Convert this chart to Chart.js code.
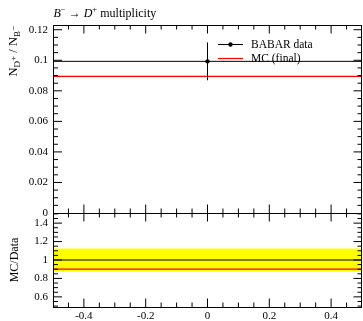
<!DOCTYPE html>
<html>
<head>
<meta charset="utf-8">
<script src="https://cdn.jsdelivr.net/npm/chart.js@4/dist/chart.umd.min.js"></script>
<style>
  html, body { margin: 0; padding: 0; overflow: hidden; background: #fff; }
  #wrap { width: 366px; height: 321px; }
</style>
</head>
<body>
<div id="wrap"><canvas id="plot" width="366" height="321"></canvas></div>
<script>
// one bin, data point with error, MC prediction
const binLow = [-0.5];
const binHigh = [0.5];
const binCenter = [0];
const dataValues = [0.0993];
const dataErrors = [0.0124];
const mcValues = [0.0895];

const mainTicks = [0, 0.02, 0.04, 0.06, 0.08, 0.1, 0.12];
const ratioTicks = [0.6, 0.8, 1, 1.2, 1.4];
const xTicks = [-0.4, -0.2, 0, 0.2, 0.4];

const serif = '"Liberation Serif", "DejaVu Serif", serif';
const fmt = v => String(Math.round(v * 1000) / 1000);

// histogram drawn as steps over the bin edges
function stepPoints(values) {
  const pts = [];
  values.forEach((v, i) => {
    pts.push({x: binLow[i], y: v});
    pts.push({x: binHigh[i], y: v});
  });
  return pts;
}

const ratioMc = mcValues.map((v, i) => v / dataValues[i]);
const ratioOne = dataValues.map(() => 1);
const ratioUp = dataErrors.map((e, i) => 1 + e / dataValues[i]);
const ratioDown = dataErrors.map((e, i) => 1 - e / dataValues[i]);

// draw a run of text pieces (italic / smaller / shifted), returns width
function drawPieces(ctx, pieces, x, y, size, measureOnly) {
  let cx = x;
  pieces.forEach(p => {
    const s = p.small ? size * 0.72 : size;
    ctx.font = (p.italic ? 'italic ' : '') + s + 'px ' + serif;
    if (!measureOnly) ctx.fillText(p.t, cx, y + (p.dy || 0));
    cx += ctx.measureText(p.t).width;
  });
  return cx - x;
}

function drawTicks(ctx, scale, vertical, step, side1, side2) {
  const major = 8.5, minor = 4.5;
  const k0 = Math.ceil(scale.min / step - 1e-6);
  const k1 = Math.floor(scale.max / step + 1e-6);
  ctx.beginPath();
  for (let k = k0; k <= k1; k++) {
    const v = k * step;
    if (Math.abs(v - scale.min) < 1e-6 || Math.abs(v - scale.max) < 1e-6) continue;
    const isMajor = scale.ticks.some(t => Math.abs(t.value - v) < 1e-6);
    const len = isMajor ? major : minor;
    const p = scale.getPixelForValue(v);
    if (vertical) {
      ctx.moveTo(side1, p); ctx.lineTo(side1 + len, p);
      ctx.moveTo(side2, p); ctx.lineTo(side2 - len, p);
    } else {
      ctx.moveTo(p, side1); ctx.lineTo(p, side1 + len);
      ctx.moveTo(p, side2); ctx.lineTo(p, side2 - len);
    }
  }
  ctx.stroke();
}

const framePlugin = {
  id: 'frame',
  afterDatasetsDraw(chart) {
    const ctx = chart.ctx;
    const x = chart.scales.x, y = chart.scales.y;
    ctx.save();
    ctx.strokeStyle = '#000';
    ctx.lineWidth = 1;
    dataValues.forEach((v, i) => {
      const px = x.getPixelForValue(binCenter[i]);
      const py = y.getPixelForValue(v);
      ctx.beginPath();
      ctx.moveTo(px, y.getPixelForValue(v - dataErrors[i]));
      ctx.lineTo(px, y.getPixelForValue(v + dataErrors[i]));
      ctx.moveTo(x.getPixelForValue(binLow[i]), py);
      ctx.lineTo(x.getPixelForValue(binHigh[i]), py);
      ctx.stroke();
    });
    ctx.restore();
  },
  afterDraw(chart) {
    const ctx = chart.ctx;
    const x = chart.scales.x, y = chart.scales.y, yr = chart.scales.yr;
    const left = Math.floor(chart.chartArea.left) + 0.5;
    const right = chart.chartArea.right - 0.5;
    ctx.save();
    ctx.strokeStyle = '#000';
    ctx.lineWidth = 1;

    // frames of both panels
    [[y.top, y.bottom], [yr.top, yr.bottom]].forEach(([t, b]) => {
      const tt = Math.floor(t) + 0.5, bb = Math.floor(b) + 0.5;
      ctx.strokeRect(left, tt, right - left, bb - tt);
    });

    // ticks pointing inwards on every side
    drawTicks(ctx, x, false, 0.05, y.top, y.bottom);
    drawTicks(ctx, x, false, 0.05, yr.top, yr.bottom);
    drawTicks(ctx, y, true, 0.005, left, chart.chartArea.right);
    drawTicks(ctx, yr, true, 0.05, left, chart.chartArea.right);

    ctx.fillStyle = '#000';
    ctx.textBaseline = 'alphabetic';
    ctx.textAlign = 'left';

    // title
    drawPieces(ctx, [
      {t: 'B', italic: true}, {t: '\u2212', small: true, dy: -4.5},
      {t: ' \u2192 '},
      {t: 'D', italic: true}, {t: '+', small: true, dy: -4.5},
      {t: ' multiplicity'}
    ], left, 16.5, 12);

    // y axis titles, rotated
    const yTitle = [
      {t: 'N', italic: false}, {t: 'D', small: true, dy: 3}, {t: '+', small: true, dy: -1.5},
      {t: ' / '},
      {t: 'N'}, {t: 'B', small: true, dy: 3}, {t: '\u2212', small: true, dy: -1.5}
    ];
    ctx.save();
    ctx.translate(17, y.top + 1);
    ctx.rotate(-Math.PI / 2);
    const w = drawPieces(ctx, yTitle, 0, 0, 12.5, true);
    drawPieces(ctx, yTitle, -w, 0, 12.5);
    ctx.restore();

    ctx.save();
    ctx.translate(18, yr.getPixelForValue(1));
    ctx.rotate(-Math.PI / 2);
    ctx.font = '12px ' + serif;
    ctx.textAlign = 'center';
    ctx.fillText('MC/Data', 0, 0);
    ctx.restore();

    // legend
    const ds = chart.data.datasets;
    const lx0 = 218, lx1 = 243, tx = 251;
    const rows = [44.5, 58.5];
    ctx.font = '11.5px ' + serif;
    ctx.textBaseline = 'middle';
    ctx.strokeStyle = '#000';
    ctx.beginPath();
    ctx.moveTo(lx0, rows[0]); ctx.lineTo(lx1, rows[0]);
    ctx.stroke();
    ctx.beginPath();
    ctx.arc((lx0 + lx1) / 2, rows[0], 2.2, 0, Math.PI * 2);
    ctx.fill();
    ctx.fillText(ds[0].label, tx, rows[0]);
    ctx.strokeStyle = ds[1].borderColor;
    ctx.lineWidth = ds[1].borderWidth;
    ctx.beginPath();
    ctx.moveTo(lx0, rows[1]); ctx.lineTo(lx1, rows[1]);
    ctx.stroke();
    ctx.fillText(ds[1].label, tx, rows[1]);
    ctx.restore();
  }
};

const tickFont = {family: serif, size: 11};

new Chart(document.getElementById('plot'), {
  type: 'line',
  data: {
    datasets: [
      {
        label: 'BABAR data',
        data: binCenter.map((c, i) => ({x: c, y: dataValues[i]})),
        yAxisID: 'y',
        showLine: false,
        pointRadius: 2.2,
        pointBorderWidth: 0,
        pointBackgroundColor: '#000',
        borderColor: '#000'
      },
      {
        label: 'MC (final)',
        data: stepPoints(mcValues),
        yAxisID: 'y',
        borderColor: '#ff0000',
        borderWidth: 1.2,
        pointRadius: 0
      },
      {
        label: 'MC/Data',
        data: stepPoints(ratioMc),
        yAxisID: 'yr',
        borderColor: '#ff0000',
        borderWidth: 1.2,
        pointRadius: 0
      },
      {
        label: 'Data/Data',
        data: stepPoints(ratioOne),
        yAxisID: 'yr',
        borderColor: '#000',
        borderWidth: 1,
        pointRadius: 0
      },
      {
        label: 'band up',
        data: stepPoints(ratioUp),
        yAxisID: 'yr',
        borderWidth: 0,
        pointRadius: 0,
        fill: '+1',
        backgroundColor: '#ffff00'
      },
      {
        label: 'band down',
        data: stepPoints(ratioDown),
        yAxisID: 'yr',
        borderWidth: 0,
        pointRadius: 0,
        fill: false
      }
    ]
  },
  options: {
    responsive: false,
    animation: false,
    devicePixelRatio: 1,
    layout: {padding: {top: 25, left: 0, right: 0, bottom: 0}},
    plugins: {
      legend: {display: false},
      tooltip: {enabled: false},
      filler: {drawTime: 'beforeDatasetsDraw'}
    },
    scales: {
      x: {
        type: 'linear',
        min: -0.5,
        max: 0.5,
        afterFit: s => { s.height = 14; },
        afterBuildTicks: s => { s.ticks = xTicks.map(v => ({value: v})); },
        grid: {display: false, drawTicks: false},
        border: {display: false},
        ticks: {font: tickFont, color: '#000', padding: 3, maxRotation: 0, autoSkip: false, callback: v => fmt(v)}
      },
      y: {
        type: 'linear',
        position: 'left',
        stack: 'panels',
        stackWeight: 2,
        weight: 1,
        min: 0,
        max: 0.1231,
        afterFit: s => { s.width = 53; },
        afterBuildTicks: s => { s.ticks = mainTicks.map(v => ({value: v})); },
        grid: {display: false, drawTicks: false},
        border: {display: false},
        ticks: {font: tickFont, color: '#000', padding: 5, autoSkip: false, callback: v => fmt(v)}
      },
      yr: {
        type: 'linear',
        position: 'left',
        stack: 'panels',
        stackWeight: 1,
        weight: 0,
        min: 0.49,
        max: 1.51,
        afterFit: s => { s.width = 53; },
        afterBuildTicks: s => { s.ticks = ratioTicks.map(v => ({value: v})); },
        grid: {display: false, drawTicks: false},
        border: {display: false},
        ticks: {font: tickFont, color: '#000', padding: 5, autoSkip: false, callback: v => fmt(v)}
      }
    }
  },
  plugins: [framePlugin]
});
</script>
</body>
</html>
